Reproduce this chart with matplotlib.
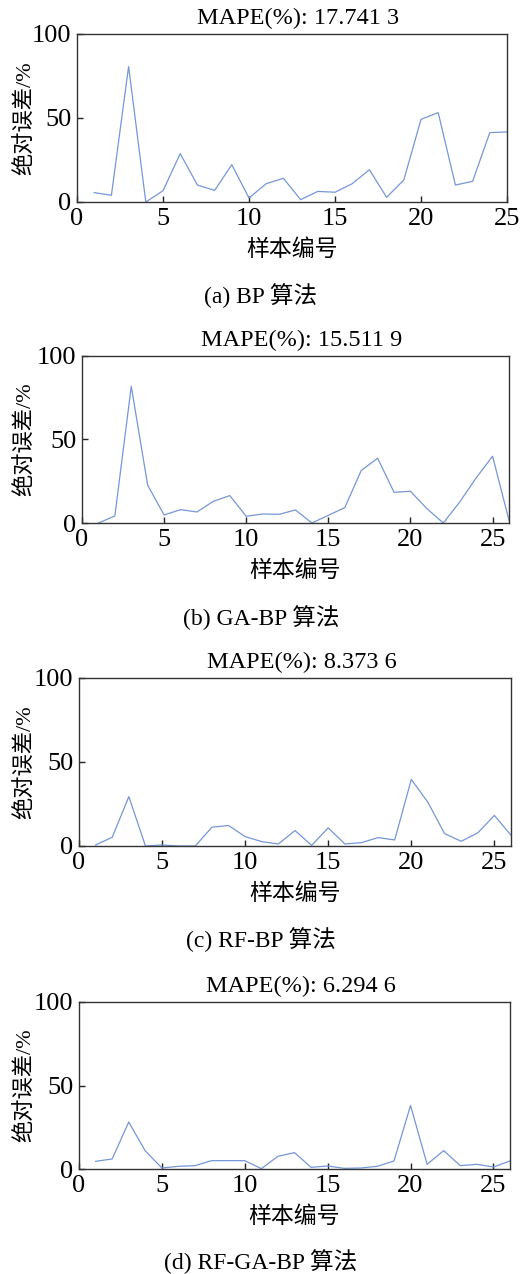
import numpy as np
import matplotlib.pyplot as plt

plt.rcParams['font.family'] = ['Liberation Serif', 'Noto Sans CJK SC']

samples_a = list(range(1, 26))
err_bp = [5.6, 4.0, 80.6, 0.0, 6.7, 28.8, 10.1, 6.9, 22.2, 2.4, 10.9, 14.1, 1.4,
          6.3, 5.8, 10.9, 19.2, 2.8, 13.1, 49.2, 53.2, 10.1, 12.3, 41.3, 41.7]

samples = list(range(1, 27))
err_gabp = [0.0, 4.2, 81.8, 22.6, 4.8, 8.0, 6.6, 13.0, 16.4, 4.0, 5.4, 5.2, 7.8,
            0.0, 4.6, 9.2, 31.4, 38.8, 18.4, 19.0, 8.6, 0.0, 12.6, 27.0, 40.0, 1.6]
err_rfbp = [0.6, 5.2, 29.4, 0.0, 0.6, 0.0, 0.0, 11.2, 12.2, 5.6, 2.6, 1.2, 9.2,
            0.4, 10.8, 1.2, 2.0, 5.0, 3.6, 39.6, 26.0, 7.4, 2.8, 7.8, 18.2, 6.4]
err_rfgabp = [4.6, 6.0, 28.1, 10.8, 0.6, 1.6, 2.0, 5.0, 5.0, 5.0, 0.2, 7.6, 9.8,
              1.0, 1.8, 0.4, 0.6, 1.6, 4.8, 38.0, 2.8, 11.0, 2.0, 2.8, 1.2, 4.8]

mape = ['17.741 3', '15.511 9', '8.373 6', '6.294 6']
captions = ['(a) BP 算法', '(b) GA-BP 算法', '(c) RF-BP 算法', '(d) RF-GA-BP 算法']

W, H = 522, 1274
fig = plt.figure(figsize=(W / 100, H / 100), dpi=100)

# axes boxes in pixels: left, right, top, bottom
boxes = [(77, 507, 34, 202), (82, 509, 356, 523), (79, 511, 678, 846), (79, 510, 1002, 1169)]
series = [(samples_a, err_bp, 25), (samples, err_gabp, 26),
          (samples, err_rfbp, 26), (samples, err_rfgabp, 26)]
cap_y = [296, 618, 940, 1262]

for (l, r, t, b), (xs, ys, xmax), m, cap, cy in zip(boxes, series, mape, captions, cap_y):
    ax = fig.add_axes([l / W, 1 - b / H, (r - l) / W, (b - t) / H])
    ax.plot(xs, ys, color='#7597d8', lw=0.9)
    ax.set_xlim(0, xmax)
    ax.set_ylim(0, 100)
    ax.set_xticks([0, 5, 10, 15, 20, 25])
    ax.set_yticks([0, 50, 100])
    ax.tick_params(direction='in', length=4, width=1, labelsize=19, pad=4,
                   top=False, right=False, colors='#222222', labelcolor='black')
    for s in ax.spines.values():
        s.set_color('#333333')
        s.set_linewidth(1)
    ax.set_title('MAPE(%): ' + m, fontsize=17.5, pad=7, x=0.515)
    ax.set_xlabel('样本编号', fontsize=16.5, labelpad=7)
    ax.set_ylabel('绝对误差/%', fontsize=16)
    ax.yaxis.set_label_coords((35 - l) / (r - l), 0.5)
    fig.text(0.5, 1 - cy / H, cap, ha='center', va='center', fontsize=17)

fig.savefig('out.png', dpi=100)
